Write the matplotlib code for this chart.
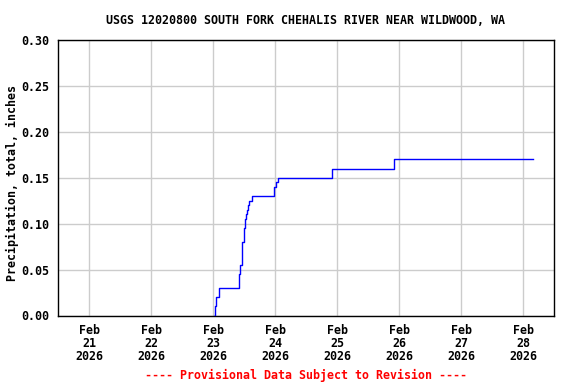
import numpy as np
import pandas as pd
import matplotlib
matplotlib.use("Agg")
import matplotlib.pyplot as plt
import matplotlib.dates as mdates

# cumulative precipitation readings (inches), step series
times = ["2026-02-23 00:30", "2026-02-23 00:35", "2026-02-23 01:10", "2026-02-23 02:30",
         "2026-02-23 10:05", "2026-02-23 10:20", "2026-02-23 10:35", "2026-02-23 11:05",
         "2026-02-23 11:25", "2026-02-23 11:55", "2026-02-23 12:05", "2026-02-23 12:25",
         "2026-02-23 12:40", "2026-02-23 13:10", "2026-02-23 13:25", "2026-02-23 13:55",
         "2026-02-23 15:10", "2026-02-23 23:40", "2026-02-24 00:25", "2026-02-24 01:00",
         "2026-02-24 22:00", "2026-02-25 22:05", "2026-02-28 03:45"]
precip = [0.00, 0.01, 0.02, 0.03,
          0.045, 0.05, 0.055, 0.075,
          0.08, 0.09, 0.095, 0.105,
          0.11, 0.115, 0.12, 0.125,
          0.13, 0.14, 0.145, 0.15,
          0.16, 0.17, 0.17]

title = "USGS 12020800 SOUTH FORK CHEHALIS RIVER NEAR WILDWOOD, WA"
ylabel = "Precipitation, total, inches"
footer = "---- Provisional Data Subject to Revision ----"
yticks = [0.00, 0.05, 0.10, 0.15, 0.20, 0.25, 0.30]

plt.rcParams['font.family'] = ['DejaVu Sans Mono']
plt.rcParams['font.weight'] = 'bold'
fs = 8.4

t = pd.to_datetime(times)

fig = plt.figure(figsize=(5.76, 3.84), dpi=100)
fig.subplots_adjust(left=58/576, right=554/576, top=1-40/384, bottom=1-315.5/384)
ax = fig.add_subplot(111)

ax.plot(t, precip, drawstyle='steps-post', color='#0000ff', lw=1.0, zorder=3)

ax.set_xlim(pd.Timestamp("2026-02-20 12:00"), pd.Timestamp("2026-02-28 12:00"))
ax.set_ylim(0, 0.30)
ax.set_yticks(yticks)
ax.set_yticklabels(["%.2f" % v for v in yticks], fontsize=fs, fontweight='bold')
ax.xaxis.set_major_locator(mdates.DayLocator())
ax.xaxis.set_major_formatter(mdates.DateFormatter('%b\n%d\n%Y'))
for lab in ax.get_xticklabels():
    lab.set_fontsize(fs)
    lab.set_fontweight('bold')
    lab.set_linespacing(1.0)
ax.tick_params(axis='both', length=0)
ax.tick_params(axis='y', pad=6)
ax.tick_params(axis='x', pad=6)
ax.grid(True, color='#cccccc', lw=1.0)
ax.set_axisbelow(True)
for s in ax.spines.values():
    s.set_color('black')
    s.set_linewidth(1.0)

ax.set_ylabel(ylabel, fontsize=fs, fontweight='bold')
ax.yaxis.label.set_va('center')
ax.yaxis.set_label_coords(-46/496, 0.48)
fig.text(306/576, 1-20/384, title, ha='center', va='center', fontsize=fs, fontweight='bold')
fig.text(306/576, 1-375/384, footer, ha='center', va='center', fontsize=fs,
         fontweight='bold', color='red')

fig.savefig("out.png", dpi=100)
